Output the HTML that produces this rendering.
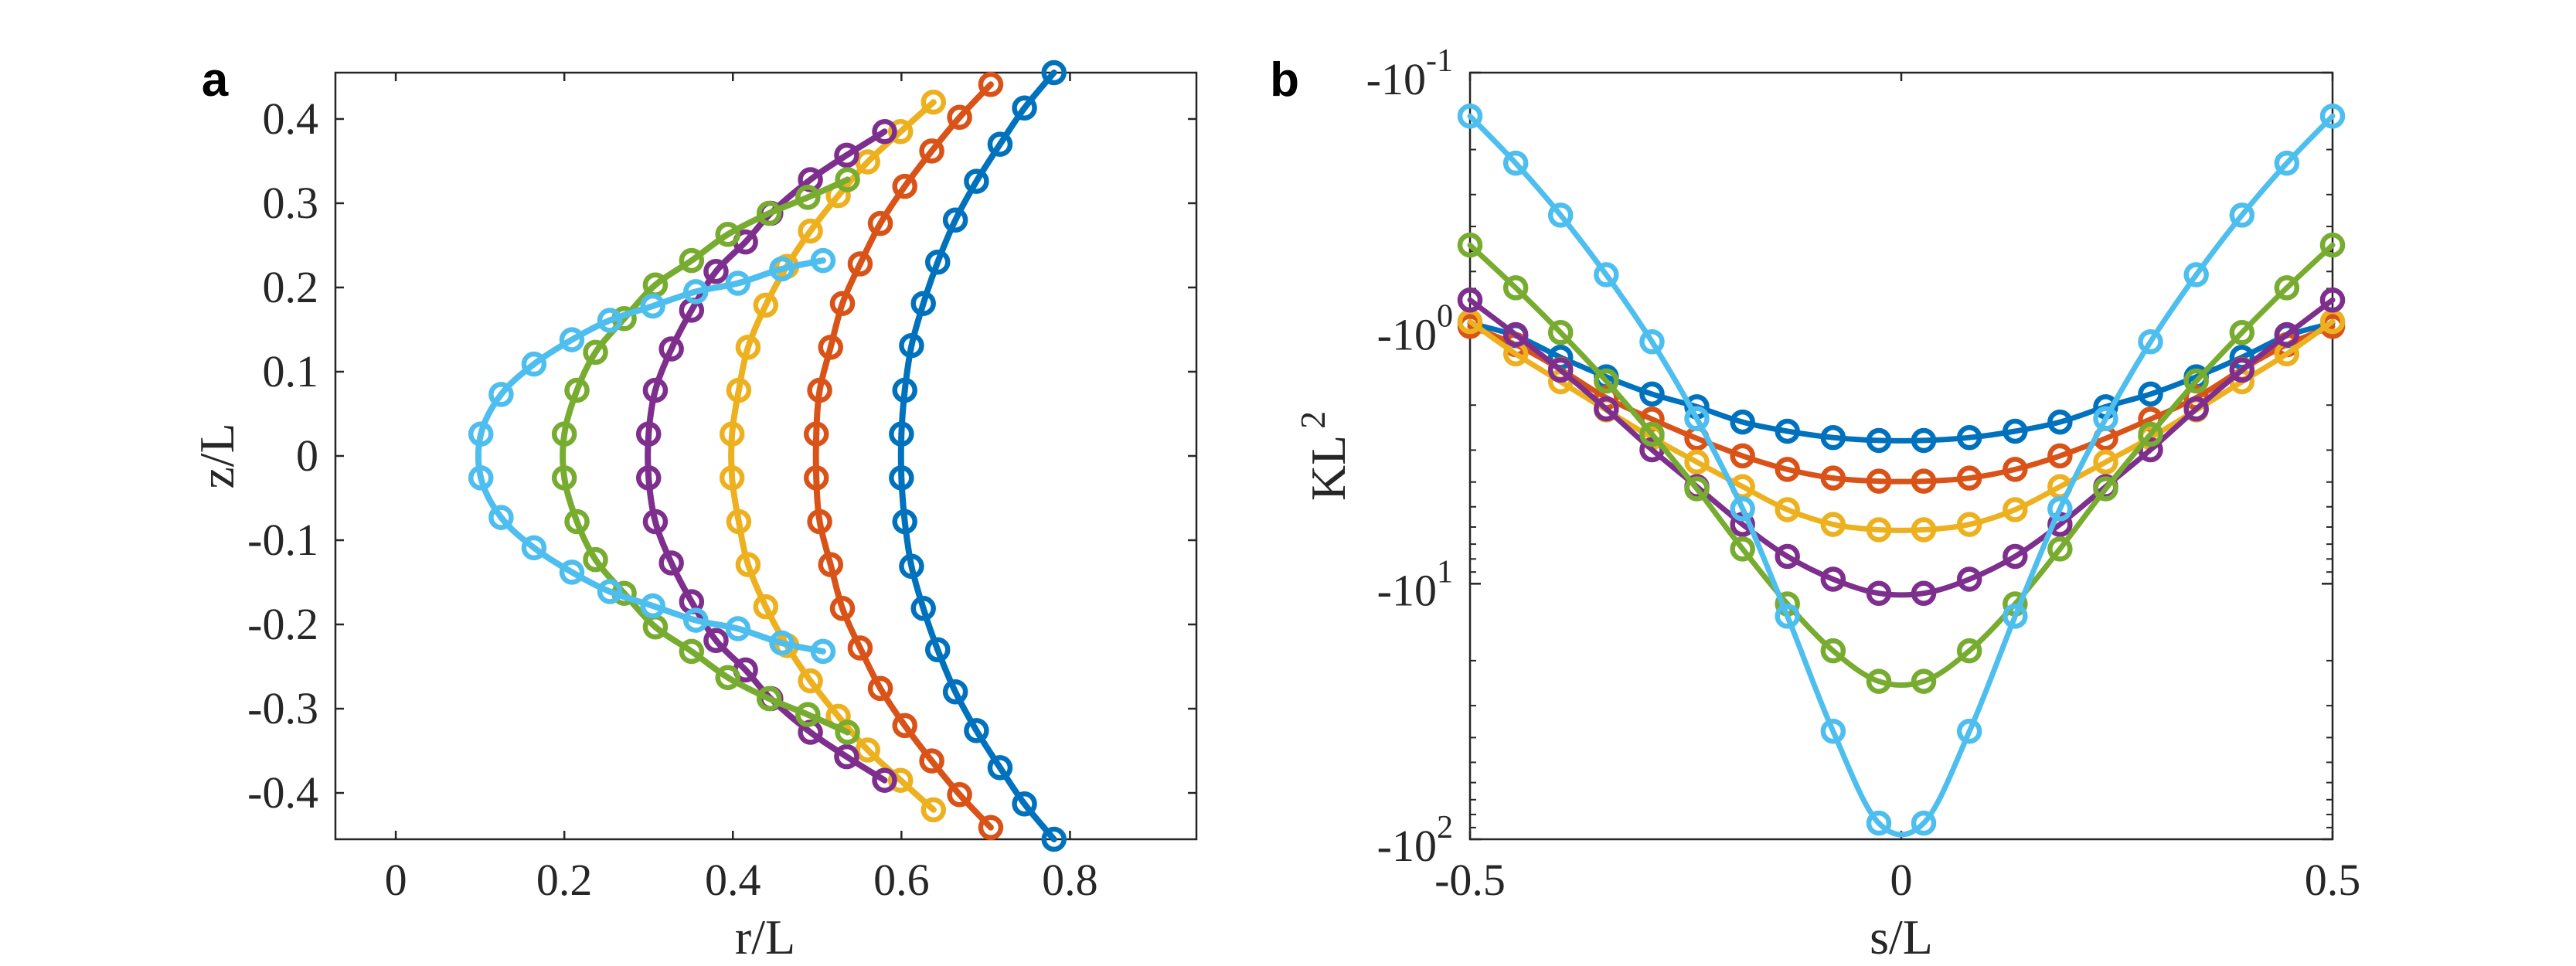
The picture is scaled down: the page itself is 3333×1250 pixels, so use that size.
<!DOCTYPE html>
<html><head><meta charset="utf-8"><style>
html,body{margin:0;padding:0;background:#fff;}
svg{display:block;}
text{font-family:"Liberation Serif","Times New Roman",Times,serif;fill:#262626;}
</style></head><body>
<svg id="fig" width="3333" height="1250" viewBox="0 0 3333 1250" xmlns="http://www.w3.org/2000/svg" font-family="Liberation Serif, Times New Roman, serif"></svg>
<script>
// ---------- data ----------
const seriesColors = ["#0072BD","#D95319","#EDB120","#7E2F8E","#77AC30","#4DBEEE"];
const seriesNames = ["blue","orange","yellow","purple","green","cyan"];
// Panel a: r/L and z/L per curve
const rBlue   = [0.781,0.746,0.717,0.689,0.664,0.643,0.626,0.612,0.604,0.600,0.600,0.604,0.612,0.626,0.643,0.664,0.689,0.717,0.746,0.781];
const zBlue   = [0.455,0.413,0.370,0.326,0.280,0.230,0.181,0.131,0.078,0.026,-0.026,-0.078,-0.131,-0.181,-0.230,-0.280,-0.326,-0.370,-0.413,-0.455];
const rOrange = [0.706,0.669,0.636,0.604,0.575,0.551,0.530,0.516,0.503,0.499,0.499,0.503,0.516,0.530,0.551,0.575,0.604,0.636,0.669,0.706];
const zOrange = [0.441,0.402,0.362,0.320,0.276,0.228,0.181,0.129,0.078,0.026,-0.026,-0.078,-0.129,-0.181,-0.228,-0.276,-0.320,-0.362,-0.402,-0.441];
const rYellow = [0.638,0.599,0.560,0.525,0.492,0.464,0.439,0.418,0.407,0.399,0.399,0.407,0.418,0.439,0.464,0.492,0.525,0.560,0.599,0.638];
const zYellow = [0.420,0.385,0.349,0.309,0.267,0.225,0.179,0.129,0.078,0.026,-0.026,-0.078,-0.129,-0.179,-0.225,-0.267,-0.309,-0.349,-0.385,-0.420];
const rPurple = [0.580,0.535,0.492,0.445,0.415,0.380,0.351,0.327,0.308,0.300,0.300,0.308,0.327,0.351,0.380,0.415,0.445,0.492,0.535,0.580];
const zPurple = [0.385,0.357,0.328,0.288,0.254,0.219,0.173,0.127,0.078,0.026,-0.026,-0.078,-0.127,-0.173,-0.219,-0.254,-0.288,-0.328,-0.357,-0.385];
const rGreen  = [0.536,0.489,0.443,0.394,0.351,0.308,0.271,0.237,0.215,0.200,0.200,0.215,0.237,0.271,0.308,0.351,0.394,0.443,0.489,0.536];
const zGreen  = [0.328,0.307,0.288,0.263,0.232,0.203,0.163,0.123,0.078,0.026,-0.026,-0.078,-0.123,-0.163,-0.203,-0.232,-0.263,-0.288,-0.307,-0.328];
const rCyan   = [0.507,0.458,0.406,0.356,0.305,0.254,0.209,0.164,0.125,0.101,0.101,0.125,0.164,0.209,0.254,0.305,0.356,0.406,0.458,0.507];
const zCyan   = [0.232,0.222,0.205,0.195,0.178,0.161,0.138,0.109,0.073,0.026,-0.026,-0.073,-0.109,-0.138,-0.161,-0.178,-0.195,-0.205,-0.222,-0.232];
// Panel b: s/L and KL^2
const sVals = [-0.5,-0.447,-0.395,-0.342,-0.289,-0.237,-0.184,-0.132,-0.079,-0.026,0.026,0.079,0.132,0.184,0.237,0.289,0.342,0.395,0.447,0.5];
const kBlue   = [-0.957,-1.07,-1.30,-1.55,-1.81,-2.03,-2.33,-2.53,-2.68,-2.75,-2.75,-2.68,-2.53,-2.33,-2.03,-1.81,-1.55,-1.30,-1.07,-0.957];
const kOrange = [-0.984,-1.16,-1.45,-1.87,-2.27,-2.70,-3.16,-3.57,-3.86,-3.97,-3.97,-3.86,-3.57,-3.16,-2.70,-2.27,-1.87,-1.45,-1.16,-0.984];
const kYellow = [-0.942,-1.26,-1.62,-2.09,-2.68,-3.34,-4.17,-5.13,-5.86,-6.15,-6.15,-5.86,-5.13,-4.17,-3.34,-2.68,-2.09,-1.62,-1.26,-0.942];
const kPurple = [-0.776,-1.06,-1.46,-2.07,-2.99,-4.17,-5.86,-7.82,-9.60,-10.9,-10.9,-9.60,-7.82,-5.86,-4.17,-2.99,-2.07,-1.46,-1.06,-0.776];
const kGreen  = [-0.473,-0.695,-1.04,-1.61,-2.60,-4.25,-7.31,-12.0,-18.3,-24.1,-24.1,-18.3,-12.0,-7.31,-4.25,-2.60,-1.61,-1.04,-0.695,-0.473];
const kCyan   = [-0.148,-0.226,-0.361,-0.618,-1.13,-2.26,-5.09,-13.4,-37.8,-86.5,-86.5,-37.8,-13.4,-5.09,-2.26,-1.13,-0.618,-0.361,-0.226,-0.148];
const aXTicks = [0,0.2,0.4,0.6,0.8];
const aXTickLabels = ["0","0.2","0.4","0.6","0.8"];
const aYTicks = [-0.4,-0.3,-0.2,-0.1,0,0.1,0.2,0.3,0.4];
const aYTickLabels = ["-0.4","-0.3","-0.2","-0.1","0","0.1","0.2","0.3","0.4"];
const bXTicks = [-0.5,0,0.5];
const bXTickLabels = ["-0.5","0","0.5"];
const bYExponents = [-1,0,1,2];

// ---------- helpers ----------
const NS="http://www.w3.org/2000/svg";
const svg=document.getElementById('fig');
const SERIF='"Liberation Serif","Times New Roman",serif';
function mk(tag,attrs,parent){const e=document.createElementNS(NS,tag);for(const k in attrs)e.setAttribute(k,attrs[k]);if(tag==='text'&&!attrs.style)e.setAttribute('style','font-family:'+SERIF);(parent||svg).appendChild(e);return e;}

const A={l:434,r:1548,t:94,b:1086,x0:-0.0716,x1:0.95,y0:-0.455,y1:0.455};
const ax=v=>A.l+(v-A.x0)/(A.x1-A.x0)*(A.r-A.l);
const ay=v=>A.b-(v-A.y0)/(A.y1-A.y0)*(A.b-A.t);
const B={l:1902,r:3018,t:94,b:1086};
const bx=v=>B.l+(v+0.5)*(B.r-B.l);
const by=v=>B.t+(Math.log10(Math.abs(v))+1)/3*(B.b-B.t);

const gA=mk('g',{});


const gB=mk('g',{});



function frame(P,g,name){
  const r=mk('rect',{x:P.l,y:P.t,width:P.r-P.l,height:P.b-P.t,fill:'none',stroke:'#262626','stroke-width':2.5},g);
  
  
}
frame(A,gA,'axes-frame-a');
frame(B,gB,'axes-frame-b');

aXTicks.forEach((v,i)=>{
  const x=ax(v);
  mk('line',{x1:x,y1:A.b,x2:x,y2:A.b-11,stroke:'#262626','stroke-width':2.5},gA);
  mk('line',{x1:x,y1:A.t,x2:x,y2:A.t+11,stroke:'#262626','stroke-width':2.5},gA);
  const t=mk('text',{x:x,y:1158,'font-size':58,'text-anchor':'middle'},gA);
  t.textContent=aXTickLabels[i];
  
  
});
aYTicks.forEach((v,i)=>{
  const y=ay(v);
  mk('line',{x1:A.l,y1:y,x2:A.l+11,y2:y,stroke:'#262626','stroke-width':2.5},gA);
  mk('line',{x1:A.r,y1:y,x2:A.r-11,y2:y,stroke:'#262626','stroke-width':2.5},gA);
  const t=mk('text',{x:412,y:y+19,'font-size':58,'text-anchor':'end'},gA);
  t.textContent=aYTickLabels[i];
  
  
});
bXTicks.forEach((v,i)=>{
  const x=bx(v);
  mk('line',{x1:x,y1:B.b,x2:x,y2:B.b-11,stroke:'#262626','stroke-width':2.5},gB);
  mk('line',{x1:x,y1:B.t,x2:x,y2:B.t+11,stroke:'#262626','stroke-width':2.5},gB);
  const t=mk('text',{x:x,y:1158,'font-size':58,'text-anchor':'middle'},gB);
  t.textContent=bXTickLabels[i];
  
  
});
bYExponents.forEach((e,i)=>{
  const y=by(-Math.pow(10,e));
  mk('line',{x1:B.l,y1:y,x2:B.l+14,y2:y,stroke:'#262626','stroke-width':2.5},gB);
  mk('line',{x1:B.r,y1:y,x2:B.r-14,y2:y,stroke:'#262626','stroke-width':2.5},gB);
  if(i<bYExponents.length-1){
    for(let k=2;k<=9;k++){
      const yy=by(-k*Math.pow(10,e));
      mk('line',{x1:B.l,y1:yy,x2:B.l+8,y2:yy,stroke:'#262626','stroke-width':2},gB);
      mk('line',{x1:B.r,y1:yy,x2:B.r-8,y2:yy,stroke:'#262626','stroke-width':2},gB);
    }
  }
  const t=mk('text',{x:1880,y:y+28,'font-size':58,'text-anchor':'end'},gB);
  
  
  const base=document.createElementNS(NS,'tspan');base.textContent='-10';t.appendChild(base);
  const sup=document.createElementNS(NS,'tspan');sup.setAttribute('dy','-30');sup.setAttribute('font-size','42');sup.textContent=String(e);t.appendChild(sup);
});

// smooth path (Catmull-Rom) through pixel points
function smoothPath(P){
  let d='M'+P[0][0].toFixed(1)+','+P[0][1].toFixed(1);
  for(let i=0;i<P.length-1;i++){
    const p0=P[Math.max(0,i-1)],p1=P[i],p2=P[i+1],p3=P[Math.min(P.length-1,i+2)];
    const c1=[p1[0]+(p2[0]-p0[0])/6,p1[1]+(p2[1]-p0[1])/6];
    const c2=[p2[0]-(p3[0]-p1[0])/6,p2[1]-(p3[1]-p1[1])/6];
    d+=' C'+c1[0].toFixed(1)+','+c1[1].toFixed(1)+' '+c2[0].toFixed(1)+','+c2[1].toFixed(1)+' '+p2[0].toFixed(1)+','+p2[1].toFixed(1);
  }
  return d;
}
function drawSeries(g,xs,ys,fx,fy,color,name,lw){
  const sg=mk('g',{},g);
  
  
  const P=xs.map((v,i)=>[fx(v),fy(ys[i])]);
  const pl=mk('path',{d:smoothPath(P),fill:'none',stroke:color,'stroke-width':lw,'stroke-linejoin':'round','stroke-linecap':'round'},sg);
  
  
  xs.forEach((v,i)=>{
    const c=mk('circle',{cx:fx(v),cy:fy(ys[i]),r:13,fill:'none',stroke:color,'stroke-width':6.5},sg);
    
    
  });
}
const aR=[rBlue,rOrange,rYellow,rPurple,rGreen,rCyan];
const aZ=[zBlue,zOrange,zYellow,zPurple,zGreen,zCyan];
const bK=[kBlue,kOrange,kYellow,kPurple,kGreen,kCyan];
for(let i=0;i<6;i++) drawSeries(gA,aR[i],aZ[i],ax,ay,seriesColors[i],'profile-'+seriesNames[i],8);
for(let i=0;i<6;i++) drawSeries(gB,sVals,bK[i],bx,by,seriesColors[i],'curvature-'+seriesNames[i],7);

function label(txt,x,y,size,name,extra){
  const t=mk('text',Object.assign({x:x,y:y,'font-size':size,'text-anchor':'middle'},extra||{}));
  t.textContent=txt;
  
  
  return t;
}
label('r/L',990,1234,64,'x-axis-title-a');
label('s/L',2460,1234,64,'x-axis-title-b');
label('z/L',0,0,64,'y-axis-title-a',{transform:'translate(302,590) rotate(-90)'});
const kl=label('',0,0,64,'y-axis-title-b',{transform:'translate(1740,590) rotate(-90)'});
const t1=document.createElementNS(NS,'tspan');t1.textContent='KL';kl.appendChild(t1);
const t2=document.createElementNS(NS,'tspan');t2.setAttribute('dy','-26');t2.setAttribute('font-size','46');t2.setAttribute('dx','8');t2.textContent='2';kl.appendChild(t2);
label('a',278,124,62,'panel-label-a',{'font-weight':'bold',style:'font-family:"Liberation Sans",Arial,sans-serif;fill:#000'});
label('b',1662,124,62,'panel-label-b',{'font-weight':'bold',style:'font-family:"Liberation Sans",Arial,sans-serif;fill:#000'});
</script>
</body></html>
